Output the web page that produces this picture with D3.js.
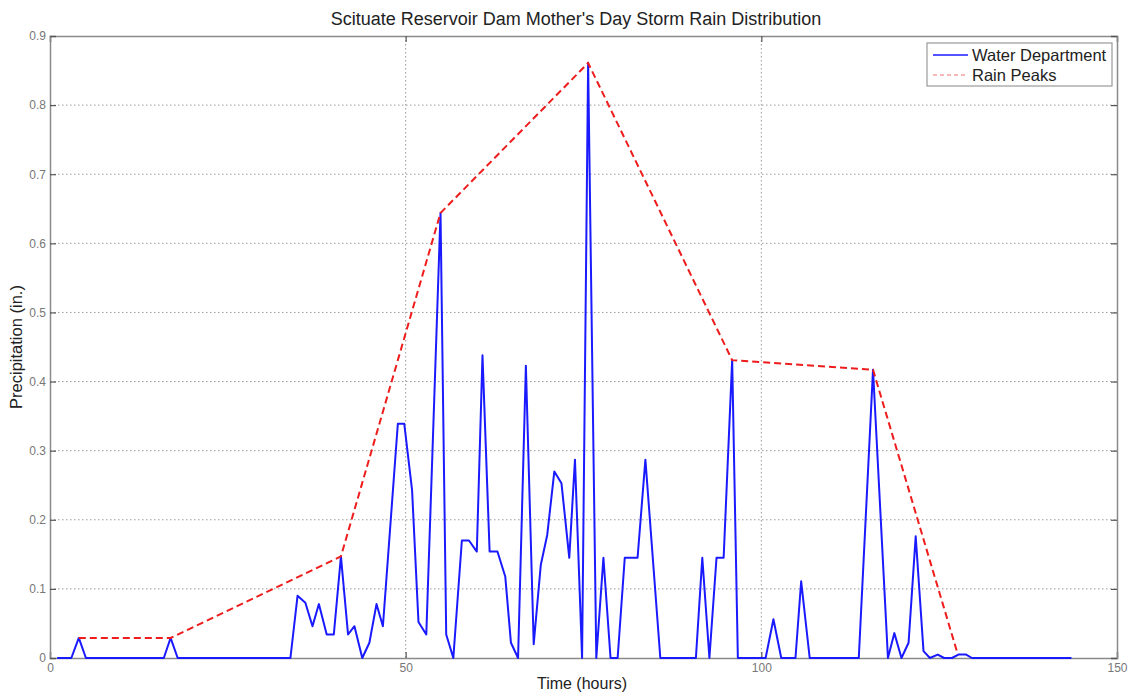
<!DOCTYPE html>
<html><head><meta charset="utf-8">
<script src="https://cdn.jsdelivr.net/npm/d3@7"></script>
<style>
html,body{margin:0;padding:0;background:#fff;}
svg{display:block;font-family:"Liberation Sans",Arial,Helvetica,sans-serif;}
</style></head>
<body>
<svg id="chart" width="1128" height="694"></svg>
<script>
// Blue series: Water Department (time in hours, precipitation in inches)
const waterTime = [1,3,4.05,5.05,16,16.95,17.95,33.8,34.8,35.9,36.9,37.8,38.9,39.9,40.9,41.9,42.8,43.9,44.9,45.9,46.8,48.9,49.8,50.9,51.8,52.9,54.9,55.7,56.7,57.9,58.9,60,60.8,61.8,62.9,64,64.8,65.8,66.9,68,69,69.9,70.9,71.9,73,73.8,74.8,75.65,76.8,77.8,78.8,79.8,80.8,82.6,83.7,85.8,90.8,91.7,92.7,93.7,94.7,95.9,96.7,100.6,101.7,102.8,104.8,105.6,106.8,113.7,115.7,117.8,118.7,119.7,120.7,121.7,122.8,123.7,124.8,125.7,126.8,127.7,128.8,129.6,143.6];
const waterValue = [0,0,0.029,0,0,0.029,0,0,0.090,0.080,0.046,0.078,0.034,0.034,0.147,0.034,0.046,0,0.022,0.078,0.046,0.339,0.339,0.243,0.052,0.034,0.644,0.034,0,0.170,0.170,0.154,0.438,0.154,0.154,0.118,0.022,0,0.423,0.020,0.135,0.178,0.270,0.253,0.145,0.287,0,0.861,0,0.145,0,0,0.145,0.145,0.287,0,0,0.145,0,0.145,0.145,0.431,0,0,0.056,0,0,0.111,0,0,0.417,0,0.036,0,0.022,0.176,0.010,0,0.005,0,0,0.005,0.005,0,0];
// Red dashed series: Rain Peaks
const peakTime = [4.05,16.95,40.9,54.9,75.65,95.9,115.7,127.6];
const peakValue = [0.029,0.029,0.147,0.644,0.861,0.431,0.417,0.006];
// Ticks
const xTicks = [0,50,100,150];
const yTicks = [0,0.1,0.2,0.3,0.4,0.5,0.6,0.7,0.8,0.9];
const yTickLabels = ["0","0.1","0.2","0.3","0.4","0.5","0.6","0.7","0.8","0.9"];
const seriesNames = ["Water Department","Rain Peaks"];

const svg = d3.select("#chart");
const L=50, R=1117, T=36, B=658;
const x = d3.scaleLinear().domain([0,150]).range([L,R]);
const y = d3.scaleLinear().domain([0,0.9]).range([B,T]);
const axisCol = "#8a8a8a";

// grid
const g = svg.append("g");
g.selectAll(".gx").data(xTicks.filter(d=>d>0&&d<150)).join("line")
  .attr("x1",d=>x(d)).attr("x2",d=>x(d)).attr("y1",T).attr("y2",B)
  .attr("stroke","#9a9a9a").attr("stroke-width",1).attr("stroke-dasharray","1.5,2.5");
g.selectAll(".gy").data(yTicks.filter(d=>d>0&&d<0.9)).join("line")
  .attr("x1",L).attr("x2",R).attr("y1",d=>y(d)).attr("y2",d=>y(d))
  .attr("stroke","#9a9a9a").attr("stroke-width",1).attr("stroke-dasharray","1.5,2.5");

// axes with inward ticks
const ax = svg.append("g").attr("transform",`translate(0,${B})`)
  .call(d3.axisBottom(x).tickValues(xTicks).tickSize(-6).tickPadding(5).tickFormat(d3.format("d")));
const axT = svg.append("g").attr("transform",`translate(0,${T})`)
  .call(d3.axisTop(x).tickValues(xTicks).tickSize(-6).tickFormat(""));
const ay = svg.append("g").attr("transform",`translate(${L},0)`)
  .call(d3.axisLeft(y).tickValues(yTicks).tickSize(-6).tickPadding(4).tickFormat((d,i)=>yTickLabels[i]));
const ayR = svg.append("g").attr("transform",`translate(${R},0)`)
  .call(d3.axisRight(y).tickValues(yTicks).tickSize(-6).tickFormat(""));
[ax,axT,ay,ayR].forEach(a=>{
  a.select(".domain").attr("stroke",axisCol).attr("stroke-width",1.5);
  a.selectAll(".tick line").attr("stroke","#555").attr("stroke-width",1.2);
  a.selectAll(".tick text").attr("fill","#777").style("font-size","12px")
   .style("font-family",'"Liberation Sans",Arial,sans-serif');
});

// lines
const lineW = d3.line().x((d,i)=>x(waterTime[i])).y((d,i)=>y(waterValue[i]));
const lineP = d3.line().x((d,i)=>x(peakTime[i])).y((d,i)=>y(peakValue[i]));
svg.append("path").datum(waterValue).attr("d",lineW)
  .attr("fill","none").attr("stroke","#1a1aff").attr("stroke-width",2).attr("stroke-linejoin","round");
svg.append("path").datum(peakValue).attr("d",lineP)
  .attr("fill","none").attr("stroke","#ee1c1c").attr("stroke-width",2).attr("stroke-dasharray","7,4");

// title & labels
svg.append("text").attr("x",576).attr("y",25).attr("text-anchor","middle")
  .attr("fill","#222").style("font-size","18px").text("Scituate Reservoir Dam Mother's Day Storm Rain Distribution");
svg.append("text").attr("x",582).attr("y",689).attr("text-anchor","middle")
  .attr("fill","#222").style("font-size","16px").text("Time (hours)");
svg.append("text").attr("transform",`translate(22,${(T+B)/2}) rotate(-90)`).attr("text-anchor","middle")
  .attr("fill","#222").style("font-size","16.5px").text("Precipitation (in.)");

// legend
const lg = svg.append("g");
lg.append("rect").attr("x",927).attr("y",43).attr("width",185).attr("height",43)
  .attr("fill","#fff").attr("stroke","#999").attr("stroke-width",1.2);
const legColors=["#1a1aff","#f07070"], legDash=[null,"4,3"];
seriesNames.forEach((n,i)=>{
  const yy = 55 + i*20;
  lg.append("line").attr("x1",933).attr("x2",968).attr("y1",yy).attr("y2",yy)
    .attr("stroke",legColors[i]).attr("stroke-width",i?1.2:1.5).attr("stroke-dasharray",legDash[i]);
  lg.append("text").attr("x",972).attr("y",yy+5.5).attr("fill","#222").style("font-size","16.5px").text(n);
});
</script>
</body></html>
